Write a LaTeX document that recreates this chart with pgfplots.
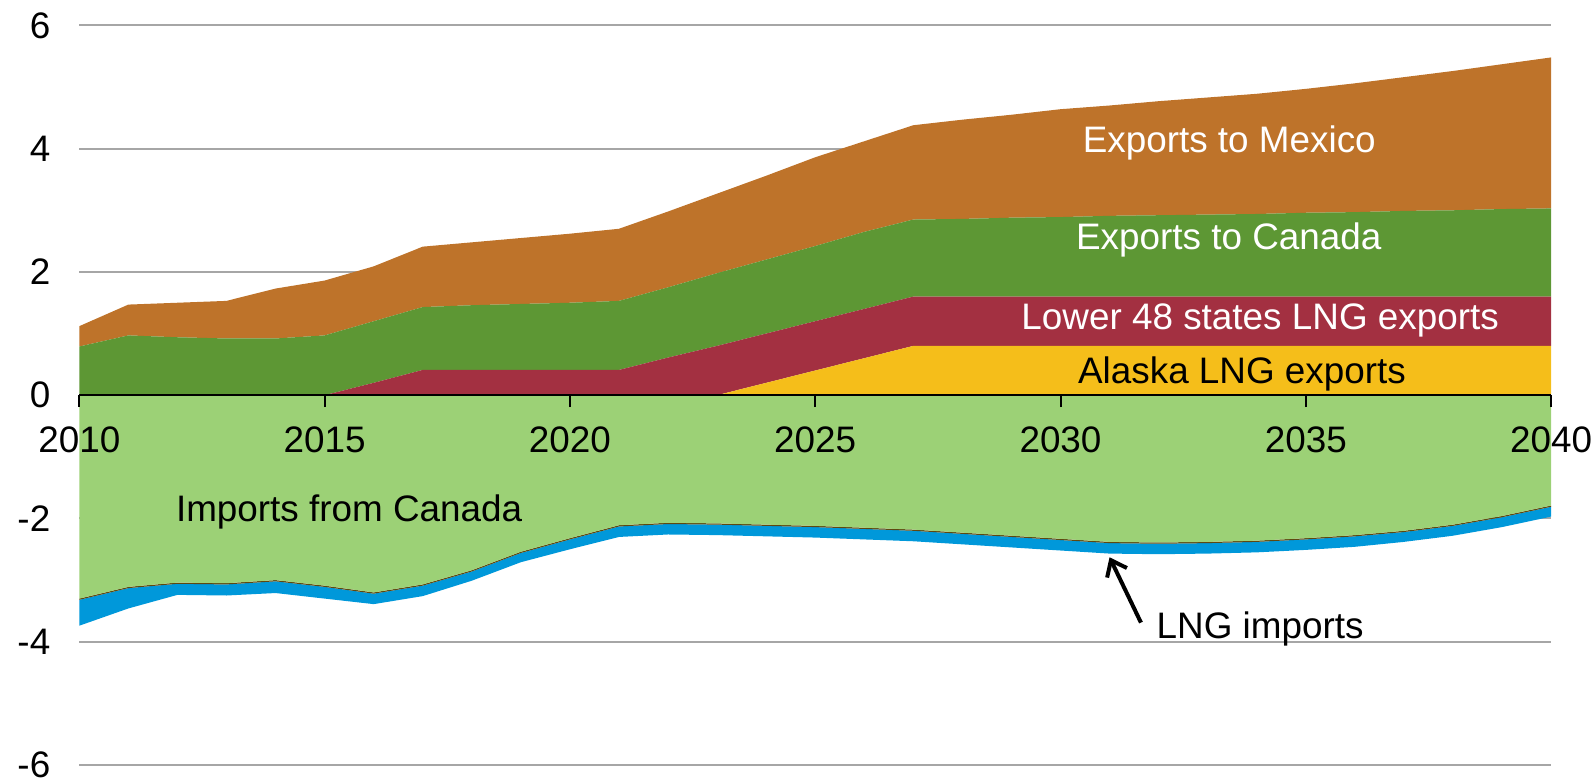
\documentclass[border=0pt]{standalone}
\usepackage{fontspec}
\setmainfont{Liberation Sans}
\usepackage{pgfplots}
\pgfplotsset{compat=1.18}
\usepackage{pgfplotstable}
\usetikzlibrary{arrows.meta}

\definecolor{cMex}{RGB}{190,115,42}
\definecolor{cCanExp}{RGB}{93,151,52}
\definecolor{cL48}{RGB}{163,48,65}
\definecolor{cAlaska}{RGB}{245,190,26}
\definecolor{cCanImp}{RGB}{156,209,118}
\definecolor{cMexImp}{RGB}{94,72,16}
\definecolor{cLNG}{RGB}{0,152,218}
\definecolor{cGrid}{RGB}{166,166,166}

\pgfplotstableread{
year alaska l48 canexp mex
2010 0    0    0.79 0.33
2011 0    0    0.97 0.50
2012 0    0    0.94 0.56
2013 0    0    0.92 0.61
2014 0    0    0.92 0.81
2015 0    0    0.97 0.89
2016 0    0.20 1.00 0.89
2017 0    0.41 1.02 0.98
2018 0    0.41 1.05 1.02
2019 0    0.41 1.07 1.07
2020 0    0.41 1.09 1.12
2021 0    0.41 1.12 1.17
2022 0    0.61 1.14 1.23
2023 0    0.80 1.18 1.29
2024 0.20 0.80 1.20 1.36
2025 0.40 0.80 1.22 1.44
2026 0.60 0.80 1.25 1.47
2027 0.80 0.80 1.25 1.53
2028 0.80 0.80 1.26 1.61
2029 0.80 0.80 1.28 1.67
2030 0.80 0.80 1.29 1.75
2031 0.80 0.80 1.31 1.79
2032 0.80 0.80 1.32 1.85
2033 0.80 0.80 1.33 1.90
2034 0.80 0.80 1.34 1.95
2035 0.80 0.80 1.36 2.01
2036 0.80 0.80 1.37 2.09
2037 0.80 0.80 1.39 2.17
2038 0.80 0.80 1.40 2.26
2039 0.80 0.80 1.42 2.35
2040 0.80 0.80 1.43 2.45
}\exports

\pgfplotstableread{
year canimp meximp lng
2010 -3.30 -0.02 -0.42
2011 -3.11 -0.02 -0.33
2012 -3.04 -0.02 -0.18
2013 -3.05 -0.02 -0.18
2014 -3.00 -0.02 -0.19
2015 -3.09 -0.02 -0.19
2016 -3.20 -0.02 -0.17
2017 -3.07 -0.02 -0.17
2018 -2.84 -0.02 -0.15
2019 -2.54 -0.02 -0.15
2020 -2.32 -0.02 -0.16
2021 -2.11 -0.02 -0.17
2022 -2.07 -0.02 -0.17
2023 -2.08 -0.02 -0.17
2024 -2.10 -0.02 -0.17
2025 -2.12 -0.02 -0.17
2026 -2.15 -0.02 -0.17
2027 -2.18 -0.02 -0.17
2028 -2.23 -0.02 -0.17
2029 -2.28 -0.02 -0.17
2030 -2.33 -0.02 -0.17
2031 -2.38 -0.02 -0.17
2032 -2.39 -0.02 -0.17
2033 -2.38 -0.02 -0.17
2034 -2.36 -0.02 -0.17
2035 -2.32 -0.02 -0.17
2036 -2.27 -0.02 -0.17
2037 -2.20 -0.02 -0.16
2038 -2.10 -0.02 -0.16
2039 -1.96 -0.02 -0.16
2040 -1.79 -0.02 -0.16
}\imports

\pgfplotsset{
  base/.style={
    width=735.9bp, height=369.8bp, scale only axis,
    xmin=2010, xmax=2040, ymin=-6, ymax=6,
    at={(0,0)}, anchor=south west,
    ticklabel style={font=\fontsize{18.5}{22}\selectfont},
  }
}
\tikzset{lbl/.style={anchor=base, font=\fontsize{18.5}{22}\selectfont}}

\begin{document}
\begin{tikzpicture}
\useasboundingbox (-39.65bp,-7bp) rectangle (757.85bp,382.5bp);

% grid + export stack
\begin{axis}[base,
  axis line style={draw=none},
  major tick length=0pt,
  xtick=\empty,
  ytick={-6,-4,-2,0,2,4,6},
  yticklabels={-6,-4,-2,0,2,4,6},
  yticklabel style={anchor=east, xshift=-11bp},
  ymajorgrids,
  grid style={color=cGrid, line width=1bp},
  stack plots=y,
]
\addplot[fill=cAlaska, draw=none] table[x=year,y=alaska]{\exports} \closedcycle;
\addplot[fill=cL48, draw=none] table[x=year,y=l48]{\exports} \closedcycle;
\addplot[fill=cCanExp, draw=none] table[x=year,y=canexp]{\exports} \closedcycle;
\addplot[fill=cMex, draw=none] table[x=year,y=mex]{\exports} \closedcycle;
\end{axis}

% import stack
\begin{axis}[base, hide axis, stack plots=y]
\addplot[fill=cCanImp, draw=none] table[x=year,y=canimp]{\imports} \closedcycle;
\addplot[fill=cMexImp, draw=none] table[x=year,y=meximp]{\imports} \closedcycle;
\addplot[fill=cLNG, draw=none] table[x=year,y=lng]{\imports} \closedcycle;
\end{axis}

% axis line, ticks, labels on top
\begin{axis}[base, clip=false,
  axis x line=middle, axis y line=none,
  axis line style={-, black, line width=1bp},
  hide obscured x ticks=false,
  xtick={2010,2015,2020,2025,2030,2035,2040},
  xticklabels={2010,2015,2020,2025,2030,2035,2040},
  ytick=\empty,
  major tick length=6bp,
  xtick style={black, line width=1bp, yshift=-3bp},
  xticklabel style={anchor=north, yshift=-9.3bp},
]
\node[lbl, text=white] at (axis cs:2033.44,3.93) {Exports to Mexico};
\node[lbl, text=white] at (axis cs:2033.43,2.37) {Exports to Canada};
\node[lbl, text=white] at (axis cs:2034.07,1.07) {Lower 48 states LNG exports};
\node[lbl, text=black] at (axis cs:2033.70,0.19) {Alaska LNG exports};
\node[lbl, text=black] at (axis cs:2015.50,-2.05) {Imports from Canada};
\node[lbl, text=black] at (axis cs:2034.07,-3.94) {LNG imports};
\draw[line width=2bp, -{Straight Barb[length=7bp,width=11bp,line width=2bp]}] (axis cs:2031.64,-3.69) -- (axis cs:2031.00,-2.63);
\end{axis}
\end{tikzpicture}
\end{document}
